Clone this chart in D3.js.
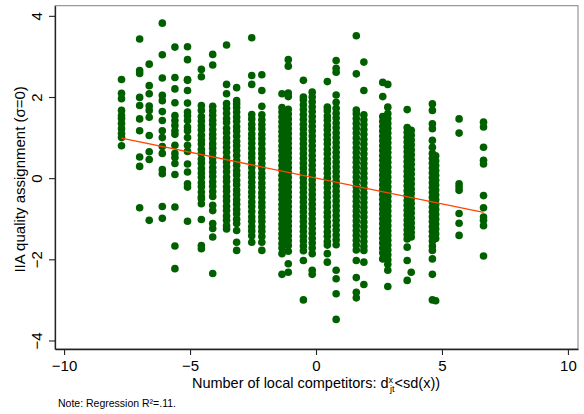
<!DOCTYPE html>
<html>
<head>
<meta charset="utf-8">
<script src="https://cdn.jsdelivr.net/npm/d3@7"></script>
<style>
  body { margin: 0; background: #fff; }
  svg { display: block; }
  text { font-family: "Liberation Sans", Arial, Helvetica, sans-serif; fill: #000; }
</style>
</head>
<body>
<svg id="chart" width="584" height="414"></svg>
<script>
"use strict";

// x position of each column of observations (number of local competitors, demeaned)
const colX = [-7.72, -7.0, -6.62, -6.1, -5.6, -5.1, -4.55, -4.1, -3.55, -3.15, -2.55, -2.15,
    -1.35, -1.1, -0.5, -0.15, 0.45, 0.8, 1.6, 1.9, 2.65, 2.85, 3.62, 3.78, 4.62, 4.75, 5.68, 6.65];

// IIA quality assignment values in each column
const colY = [
    [2.43, 2.09, 1.96, 1.67, 1.54, 1.47, 1.35, 1.22, 1.10, 1.0, 0.8],
    [3.43, 2.65, 2.58, 1.99, 1.79, 1.46, 1.17, 0.52, 0.29, -0.73],
    [2.81, 2.28, 2.08, 1.78, 1.67, 1.50, 1.05, 0.65, 0.46, -1.04],
    [3.82, 3.04, 2.47, 2.04, 1.91, 1.64, 1.42, 1.17, 1.0, 0.78, 0.61, 0.21, 0.11, -0.70, -0.99],
    [3.23, 2.48, 2.20, 1.86, 1.54, 1.42, 1.30, 1.17, 1.08, 0.81, 0.61, 0.51, 0.36, 0.09, -0.71, -1.67, -2.23],
    [3.24, 2.92, 2.43, 2.41, 2.16, 1.85, 1.63, 1.54, 1.42, 1.26, 1.17, 1.0, 0.81, 0.66, 0.35, 0.15, -0.14, -0.22, -1.06],
    [2.68, 2.50, 1.79, 1.67, 1.52, 1.41, 1.29, 1.19, 1.06, 0.94, 0.84, 0.71, 0.61, 0.47, 0.37, 0.24, 0.13, 0.02,
        -0.11, -0.21, -0.34, -0.46, -0.51, -0.63, -1.02, -1.66, -1.74],
    [3.05, 2.79, 1.77, 1.66, 1.55, 1.43, 1.33, 1.20, 1.08, 0.98, 0.85, 0.74, 0.62, 0.50, 0.39, 0.26, 0.15, 0.04,
        -0.09, -0.20, -0.33, -0.45, -0.67, -0.80, -1.12, -1.24, -1.45, -2.35],
    [3.28, 2.31, 2.08, 1.84, 1.72, 1.60, 1.47, 1.37, 1.23, 1.12, 0.99, 0.88, 0.76, 0.64, 0.51, 0.40, 0.28, 0.16,
        0.03, -0.08, -0.21, -0.32, -0.45, -0.56, -0.69, -0.80, -0.93, -1.04, -1.17, -1.25],
    [2.23, 1.91, 1.83, 1.74, 1.63, 1.51, 1.40, 1.27, 1.16, 1.04, 0.91, 0.80, 0.68, 0.56, 0.43, 0.32, 0.19, 0.08,
        -0.05, -0.16, -0.29, -0.40, -0.53, -0.64, -0.77, -0.88, -1.01, -1.12, -1.29, -1.58, -1.78],
    [3.46, 2.53, 2.31, 1.57, 1.46, 1.33, 1.22, 1.09, 0.98, 0.86, 0.74, 0.61, 0.50, 0.38, 0.26, 0.13, 0.02, -0.10,
        -0.22, -0.34, -0.46, -0.59, -0.70, -0.82, -0.95, -1.06, -1.19, -1.30, -1.42, -1.58],
    [2.55, 2.16, 1.77, 1.56, 1.44, 1.32, 1.21, 1.08, 0.97, 0.85, 0.72, 0.61, 0.49, 0.36, 0.25, 0.12, 0.01, -0.12,
        -0.23, -0.36, -0.47, -0.60, -0.71, -0.84, -0.96, -1.07, -1.20, -1.31, -1.44, -1.58, -1.78],
    [2.08, 1.74, 1.63, 1.51, 1.39, 1.27, 1.15, 1.03, 0.92, 0.79, 0.68, 0.55, 0.44, 0.31, 0.20, 0.07, -0.04, -0.17,
        -0.28, -0.41, -0.52, -0.65, -0.76, -0.89, -1.00, -1.13, -1.24, -1.37, -1.48, -1.61, -1.72, -1.86, -2.37],
    [2.92, 2.76, 2.10, 2.01, 1.70, 1.58, 1.46, 1.34, 1.22, 1.10, 0.98, 0.86, 0.74, 0.62, 0.50, 0.38, 0.26, 0.14,
        0.02, -0.10, -0.22, -0.34, -0.46, -0.58, -0.70, -0.82, -0.94, -1.06, -1.18, -1.30, -1.42, -1.54, -1.66,
        -1.80, -2.11, -2.32],
    [2.41, 2.00, 1.93, 1.81, 1.69, 1.57, 1.45, 1.33, 1.21, 1.09, 0.97, 0.85, 0.73, 0.61, 0.49, 0.37, 0.25, 0.13,
        0.01, -0.11, -0.23, -0.35, -0.47, -0.59, -0.71, -0.83, -0.95, -1.07, -1.19, -1.31, -1.43, -1.55, -1.67,
        -1.79, -2.03, -3.00],
    [2.12, 2.00, 1.88, 1.76, 1.64, 1.52, 1.40, 1.28, 1.16, 1.04, 0.92, 0.80, 0.68, 0.56, 0.44, 0.32, 0.20, 0.08,
        -0.04, -0.16, -0.28, -0.40, -0.52, -0.64, -0.76, -0.88, -1.00, -1.12, -1.24, -1.36, -1.48, -1.60, -1.72,
        -1.86, -2.27, -2.37],
    [2.38, 1.75, 1.66, 1.53, 1.43, 1.30, 1.19, 1.07, 0.95, 0.84, 0.71, 0.60, 0.47, 0.36, 0.24, 0.12, 0.00, -0.12,
        -0.23, -0.36, -0.47, -0.60, -0.71, -0.84, -0.95, -1.08, -1.19, -1.32, -1.43, -1.56, -1.65, -1.86, -2.07],
    [2.90, 2.71, 2.61, 2.05, 1.87, 1.72, 1.60, 1.48, 1.36, 1.24, 1.12, 1.00, 0.88, 0.76, 0.64, 0.52, 0.40, 0.28,
        0.16, 0.04, -0.08, -0.20, -0.32, -0.44, -0.56, -0.68, -0.80, -0.92, -1.04, -1.16, -1.28, -1.40, -1.52,
        -1.64, -2.27, -2.48, -2.85, -3.48],
    [3.51, 2.57, 1.68, 1.59, 1.47, 1.35, 1.23, 1.11, 0.99, 0.87, 0.75, 0.63, 0.51, 0.39, 0.27, 0.15, 0.03, -0.09,
        -0.21, -0.33, -0.45, -0.57, -0.69, -0.81, -0.93, -1.05, -1.17, -1.29, -1.41, -1.53, -1.65, -1.77, -2.03,
        -2.45, -2.81, -2.95],
    [2.86, 2.16, 1.56, 1.44, 1.32, 1.20, 1.08, 0.96, 0.84, 0.72, 0.60, 0.48, 0.36, 0.24, 0.12, 0.00, -0.12, -0.24,
        -0.36, -0.48, -0.60, -0.72, -0.84, -0.96, -1.08, -1.20, -1.32, -1.44, -1.56, -1.68, -1.78, -2.07, -2.62],
    [2.36, 2.01, 1.52, 1.40, 1.28, 1.16, 1.04, 0.92, 0.80, 0.68, 0.56, 0.44, 0.32, 0.20, 0.08, -0.04, -0.16, -0.28,
        -0.40, -0.52, -0.64, -0.76, -0.88, -1.00, -1.12, -1.24, -1.36, -1.48, -1.60, -1.72, -1.84, -1.99],
    [2.31, 1.75, 1.59, 1.47, 1.35, 1.23, 1.11, 0.99, 0.87, 0.75, 0.63, 0.51, 0.39, 0.27, 0.15, 0.03, -0.09, -0.21,
        -0.33, -0.45, -0.57, -0.69, -0.81, -0.93, -1.05, -1.17, -1.29, -1.41, -1.53, -1.65, -1.77, -1.89, -2.01,
        -2.12, -2.27, -2.67],
    [1.69, 1.25, 1.13, 1.01, 0.89, 0.77, 0.65, 0.53, 0.41, 0.29, 0.17, 0.05, -0.07, -0.19, -0.31, -0.43, -0.55,
        -0.67, -0.79, -0.91, -1.03, -1.15, -1.27, -1.39, -1.50, -1.70, -2.03, -2.52],
    [1.18, 1.06, 0.94, 0.82, 0.70, 0.58, 0.46, 0.34, 0.22, 0.10, -0.02, -0.14, -0.26, -0.38, -0.50, -0.62, -0.74,
        -0.86, -0.98, -1.10, -1.22, -1.34, -1.45, -2.32],
    [1.83, 1.67, 1.34, 1.22, 0.93, 0.76, 0.61, 0.49, 0.37, 0.25, 0.13, 0.01, -0.11, -0.23, -0.35, -0.47, -0.59,
        -0.71, -0.83, -0.95, -1.07, -1.19, -1.31, -1.43, -1.55, -1.67, -1.78, -1.99, -2.37, -3.0],
    [0.55, 0.43, 0.31, 0.19, 0.07, -0.05, -0.17, -0.29, -0.41, -0.53, -0.65, -0.77, -0.89, -1.01, -1.13, -1.25,
        -1.37, -1.49, -3.02],
    [1.46, 1.11, -0.14, -0.22, -0.30, -0.87, -1.11, -1.41],
    [1.38, 1.26, 0.76, 0.44, 0.35, -0.43, -0.73, -0.96, -1.04, -1.17, -1.92]
];

const xTicks = [-10, -5, 0, 5, 10];
const yTicks = [-4, -2, 0, 2, 4];

// fitted regression line
const fitIntercept = 0.004;
const fitSlope = -0.127;

const MARKER_COLOR = "#006000";
const FIT_COLOR = "#ff4500";
const FONT_SIZE = 15;

const svg = d3.select("#chart");

const x = d3.scaleLinear().domain([-10.36, 10.4]).range([55, 578]);
const y = d3.scaleLinear().domain([-4.21, 4.25]).range([349, 5.7]);

const points = colX.flatMap((cx, i) => colY[i].map(v => ({x: cx, y: v})));

// plot region outline
svg.append("rect")
    .attr("x", x.range()[0])
    .attr("y", y.range()[1])
    .attr("width", x.range()[1] - x.range()[0])
    .attr("height", y.range()[0] - y.range()[1])
    .attr("fill", "none")
    .attr("stroke", "#808080")
    .attr("stroke-width", 1);

svg.append("g")
    .selectAll("circle")
    .data(points)
    .enter()
    .append("circle")
    .attr("cx", d => x(d.x))
    .attr("cy", d => y(d.y))
    .attr("r", 3.8)
    .attr("fill", MARKER_COLOR);

const xExt = d3.extent(colX);
const line = d3.line()
    .x(d => x(d))
    .y(d => y(fitIntercept + fitSlope * d));

svg.append("path")
    .datum(xExt)
    .attr("d", line)
    .attr("fill", "none")
    .attr("stroke", FIT_COLOR)
    .attr("stroke-width", 1.3);

// axes
const xAxis = svg.append("g")
    .attr("transform", "translate(0," + y.range()[0] + ")")
    .call(d3.axisBottom(x).tickValues(xTicks).tickSize(6).tickSizeOuter(0));
xAxis.select(".domain").attr("stroke", "#222").attr("stroke-width", 1.3);
xAxis.selectAll(".tick line").attr("stroke", "#222").attr("stroke-width", 1.1);
xAxis.selectAll(".tick text")
    .attr("y", 21.5)
    .attr("dy", 0)
    .style("font-size", FONT_SIZE + "px")
    .style("font-family", "'Liberation Sans', Arial, sans-serif")
    .attr("fill", "#000");

const yAxis = svg.append("g")
    .attr("transform", "translate(" + x.range()[0] + ",0)")
    .call(d3.axisLeft(y).tickValues(yTicks).tickSize(6).tickSizeOuter(0));
yAxis.select(".domain").attr("stroke", "#222").attr("stroke-width", 1.3);
yAxis.selectAll(".tick line").attr("stroke", "#222").attr("stroke-width", 1.1);
yAxis.selectAll(".tick text")
    .attr("transform", "rotate(-90)")
    .attr("x", 0)
    .attr("y", -13)
    .attr("dy", 0)
    .attr("text-anchor", "middle")
    .style("font-size", FONT_SIZE + "px")
    .style("font-family", "'Liberation Sans', Arial, sans-serif")
    .attr("fill", "#000");

// titles
svg.append("text")
    .attr("transform", "translate(25," + ((y.range()[0] + y.range()[1]) / 2 + 2) + ") rotate(-90)")
    .attr("text-anchor", "middle")
    .style("font-size", FONT_SIZE + "px")
    .text("IIA quality assignment (\u03c3=0)");

const xTitle = svg.append("text")
    .attr("x", 316)
    .attr("y", 388)
    .attr("text-anchor", "middle")
    .style("font-size", "14.5px");
xTitle.append("tspan").text("Number of local competitors: d");
xTitle.append("tspan").attr("dy", -5).style("font-size", "9px").text("x");
xTitle.append("tspan").attr("dy", 9).attr("dx", -3).style("font-size", "9px").text("jt");
xTitle.append("tspan").attr("dy", -4).text("<sd(x))");

svg.append("text")
    .attr("x", 58)
    .attr("y", 406.5)
    .style("font-size", "10.5px")
    .text("Note: Regression R\u00b2=.11.");
</script>
</body>
</html>
